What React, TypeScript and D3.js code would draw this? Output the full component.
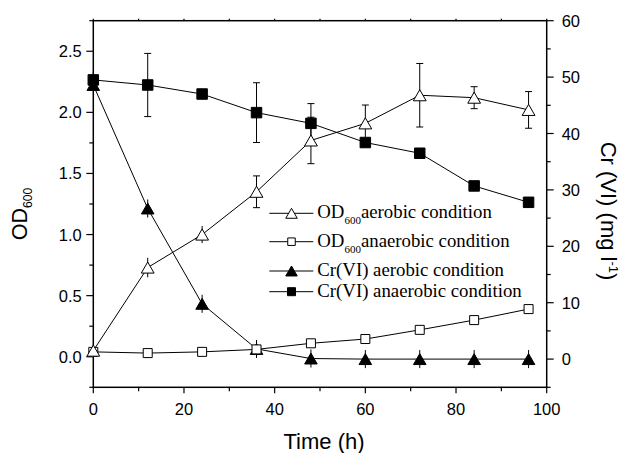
import React, { useEffect, useRef } from "react";
import * as d3 from "d3";

// sampling times (h)
const time = [0, 12, 24, 36, 48, 60, 72, 84, 96];

// OD600, left axis
const odAerobic = [0.05, 0.73, 1.0, 1.35, 1.77, 1.91, 2.14, 2.12, 2.02];
const odAerobicErr = [0.02, 0.08, 0.07, 0.13, 0.19, 0.15, 0.26, 0.09, 0.15];
const odAnaerobic = [0.04, 0.03, 0.04, 0.06, 0.11, 0.145, 0.22, 0.3, 0.39];

// Cr(VI) mg/l, right axis
const crAerobic = [48.6, 26.7, 9.8, 1.8, 0.1, 0, 0, 0, 0];
const crAerobicErr = [1.0, 1.6, 1.6, 1.6, 1.6, 1.6, 1.6, 1.6, 1.6];
const crAnaerobic = [49.5, 48.6, 47.0, 43.7, 41.8, 38.4, 36.5, 30.7, 27.8];
const crAnaerobicErr = [1.5, 5.6, 0.4, 5.3, 3.5, 0.6, 0.8, 0.4, 0.4];

const xTicks = [0, 20, 40, 60, 80, 100];
const leftTicks = [0.0, 0.5, 1.0, 1.5, 2.0, 2.5];
const rightTicks = [0, 10, 20, 30, 40, 50, 60];

const legendItems = [
  { main: "OD", sub: "600", rest: "aerobic condition", shape: "tri", fill: "white" },
  { main: "OD", sub: "600", rest: "anaerobic condition", shape: "sq", fill: "white" },
  { main: "Cr(VI) aerobic condition", sub: "", rest: "", shape: "tri", fill: "black" },
  { main: "Cr(VI) anaerobic condition", sub: "", rest: "", shape: "sq", fill: "black" },
];

const W = 625;
const H = 453;
const sans = "Arial, 'Liberation Sans', sans-serif";
const serif = "'Times New Roman', 'Liberation Serif', serif";

// triangle centred on its bounding box, like Origin draws it
const tri = (s: number) => {
  const h = (s * Math.sqrt(3)) / 2;
  return `M0,${-h / 2}L${s / 2},${h / 2}L${-s / 2},${h / 2}Z`;
};
const sq = (s: number) => `M${-s / 2},${-s / 2}h${s}v${s}h${-s}Z`;

const App = () => {
  const ref = useRef<SVGSVGElement>(null);

  useEffect(() => {
    const svg = d3.select(ref.current);
    svg.selectAll("*").remove();

    const left = 93.3, right = 546.7, top = 20.7, bottom = 387.3;

    const x = d3.scaleLinear().domain([0, 100]).range([left, right]);
    const yL = d3.scaleLinear().domain([-0.25, 2.75]).range([bottom, top]);
    const yR = d3.scaleLinear().domain([-5, 60]).range([bottom, top]);

    const g = svg.append("g");

    // ticks
    const tickG = g.append("g").attr("stroke", "black").attr("stroke-width", 1.2);
    d3.range(0, 101, 10).forEach((v) => {
      const major = v % 20 === 0;
      tickG.append("line")
        .attr("x1", x(v)).attr("x2", x(v))
        .attr("y1", bottom).attr("y2", bottom + (major ? 6 : 4));
      tickG.append("line")
        .attr("x1", x(v)).attr("x2", x(v))
        .attr("y1", top).attr("y2", top - 2);
    });
    d3.range(-0.25, 2.76, 0.25).forEach((v) => {
      const major = Math.abs(v * 2 - Math.round(v * 2)) < 1e-6;
      tickG.append("line")
        .attr("x1", left).attr("x2", left - (major ? 7 : 4))
        .attr("y1", yL(v)).attr("y2", yL(v));
    });
    d3.range(-5, 61, 5).forEach((v) => {
      const major = v % 10 === 0;
      tickG.append("line")
        .attr("x1", right).attr("x2", right + (major ? 7 : 4))
        .attr("y1", yR(v)).attr("y2", yR(v));
    });

    // frame
    g.append("rect")
      .attr("x", left).attr("y", top)
      .attr("width", right - left).attr("height", bottom - top)
      .attr("fill", "none").attr("stroke", "black").attr("stroke-width", 1.5);

    // tick labels
    const lab = g.append("g").attr("font-family", sans).attr("font-size", 16.5).attr("fill", "black");
    xTicks.forEach((v) => {
      lab.append("text").attr("x", x(v)).attr("y", 415).attr("text-anchor", "middle").text(v);
    });
    leftTicks.forEach((v) => {
      lab.append("text").attr("x", 81.7).attr("y", yL(v) + 6).attr("text-anchor", "end").text(v.toFixed(1));
    });
    rightTicks.forEach((v) => {
      lab.append("text").attr("x", 561.7).attr("y", yR(v) + 6).text(v);
    });

    // axis titles
    g.append("text")
      .attr("x", 324).attr("y", 449).attr("text-anchor", "middle")
      .attr("font-family", sans).attr("font-size", 22).text("Time (h)");

    const odT = g.append("text")
      .attr("transform", "translate(27,214) rotate(-90)")
      .attr("text-anchor", "middle")
      .attr("font-family", sans).attr("font-size", 21.5);
    odT.append("tspan").text("OD");
    odT.append("tspan").attr("font-size", 12).attr("dy", 5).text("600");

    const crT = g.append("text")
      .attr("transform", "translate(601,211) rotate(90)")
      .attr("text-anchor", "middle")
      .attr("font-family", sans).attr("font-size", 22);
    crT.append("tspan").text("Cr (VI) (mg l");
    crT.append("tspan").attr("font-size", 13).attr("dy", -8).text("-1");
    crT.append("tspan").attr("dy", 8).text(")");

    const series = [
      { vals: crAnaerobic, err: crAnaerobicErr, y: yR, shape: sq(10.5), fill: "black" },
      { vals: crAerobic, err: crAerobicErr, y: yR, shape: tri(12.6), fill: "black" },
      { vals: odAnaerobic, err: null, y: yL, shape: sq(9), fill: "white" },
      { vals: odAerobic, err: odAerobicErr, y: yL, shape: tri(12.8), fill: "white" },
    ];

    // lines and error bars first
    series.forEach((s) => {
      const line = d3.line<number>()
        .x((d, i) => x(time[i]))
        .y((d) => s.y(d));
      g.append("path").datum(s.vals).attr("d", line)
        .attr("fill", "none").attr("stroke", "black").attr("stroke-width", 1);
      if (s.err) {
        s.vals.forEach((v, i) => {
          const e = s.err![i];
          const cx = x(time[i]);
          const y1 = s.y(v - e), y2 = s.y(v + e);
          g.append("line").attr("x1", cx).attr("x2", cx).attr("y1", y1).attr("y2", y2)
            .attr("stroke", "black").attr("stroke-width", 1);
          // short bars hide their caps under the marker
          if (Math.abs(y1 - y2) / 2 > 10) {
            [y1, y2].forEach((yy) => {
              g.append("line").attr("x1", cx - 3.5).attr("x2", cx + 3.5).attr("y1", yy).attr("y2", yy)
                .attr("stroke", "black").attr("stroke-width", 1);
            });
          }
        });
      }
    });

    // markers
    series.forEach((s) => {
      s.vals.forEach((v, i) => {
        g.append("path").attr("d", s.shape)
          .attr("transform", `translate(${x(time[i])},${s.y(v)})`)
          .attr("fill", s.fill).attr("stroke", "black").attr("stroke-width", 1);
      });
    });

    // legend
    const legY = [213.3, 241.7, 271, 291.7];
    legendItems.forEach((item, i) => {
      const ly = legY[i];
      g.append("line").attr("x1", 269.3).attr("x2", 313.3).attr("y1", ly).attr("y2", ly)
        .attr("stroke", "black").attr("stroke-width", 1);
      const shape = item.shape === "tri" ? tri(11.5) : sq(item.fill === "white" ? 7.5 : 8);
      g.append("path").attr("d", shape)
        .attr("transform", `translate(291.5,${ly})`)
        .attr("fill", item.fill).attr("stroke", "black").attr("stroke-width", 1);
      const t = g.append("text").attr("x", 317.3).attr("y", ly + 5)
        .attr("font-family", serif).attr("font-size", 18.8);
      t.append("tspan").text(item.main);
      if (item.sub) {
        t.append("tspan").attr("font-size", 11).attr("dy", 6).text(item.sub);
        t.append("tspan").attr("dy", -6).text(item.rest);
      }
    });
  }, []);

  return (
    <svg
      ref={ref}
      width={W}
      height={H}
      style={{ position: "absolute", left: 0, top: 0, background: "white" }}
    ></svg>
  );
};

export default App;
